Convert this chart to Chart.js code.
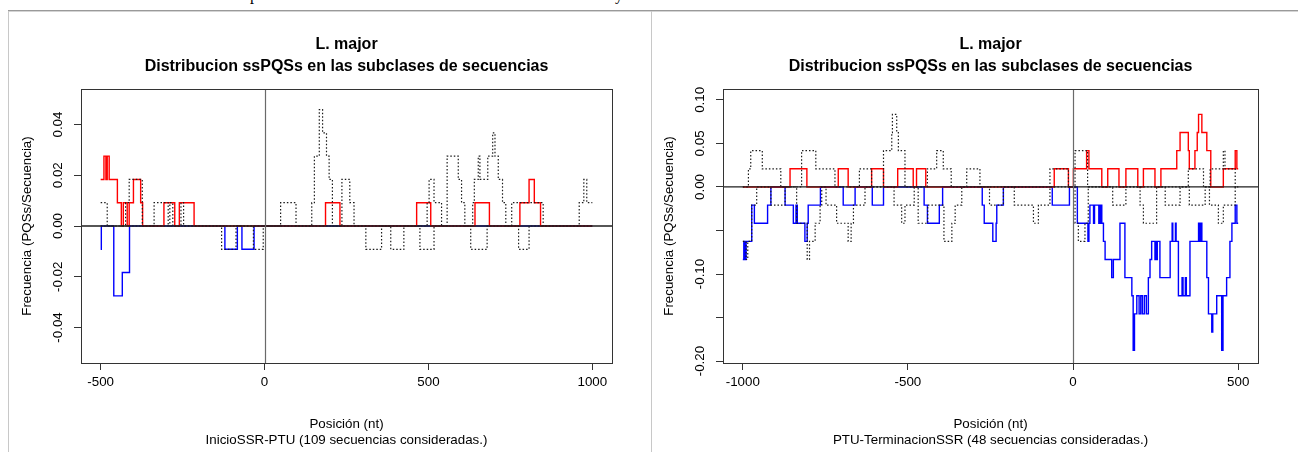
<!DOCTYPE html>
<html>
<head>
<meta charset="utf-8">
<script src="https://cdn.jsdelivr.net/npm/chart.js@4.4.1/dist/chart.umd.min.js"></script>
<style>
  html, body { margin: 0; padding: 0; background: #fff; }
  #page { position: relative; width: 1298px; height: 452px; overflow: hidden; background: #fff; }
  .frag { position: absolute; top: -13px; font: 16px "Liberation Serif", serif; line-height: 16px; color: #000; }
  #topRule { position: absolute; left: 8px; top: 10px; width: 1290px; height: 0; border-top: 1px solid #9a9a9a; border-bottom: 1px solid #d4d4d4; }
  #leftRule { position: absolute; left: 8px; top: 11px; width: 0; height: 441px; border-left: 1px solid #c8c8c8; }
  #midRule { position: absolute; left: 651px; top: 11px; width: 0; height: 441px; border-left: 1px solid #c8c8c8; }
  .panel { position: absolute; top: 0; height: 452px; }
  canvas { display: block; }
</style>
</head>
<body>
<div id="page">
  <span class="frag" style="left:250px">p</span>
  <span class="frag" style="left:615px">y</span>
  <div id="topRule"></div>
  <div id="leftRule"></div>
  <div id="midRule"></div>
  <div class="panel" style="left:0;width:651px"><canvas id="cInicio" width="651" height="452"></canvas></div>
  <div class="panel" style="left:652px;width:646px"><canvas id="cFin" width="646" height="452"></canvas></div>
</div>
<script>
// Número de secuencias consideradas en cada región
const nSecInicio = 109;
const nSecFin = 48;

// Marcas de los ejes
const xTicksInicio = [-500, 0, 500, 1000];
const yTicksInicio = [-0.04, -0.02, 0, 0.02, 0.04];
const yLabelsInicio = ['-0.04', '-0.02', '0.00', '0.02', '0.04'];
const xTicksFin = [-1000, -500, 0, 500];
const yTicksFin = [-0.2, -0.15, -0.1, -0.05, 0, 0.05, 0.1];
const yLabelsFin = ['-0.20', '', '-0.10', '', '0.00', '0.05', '0.10'];

// Escalones [posición (nt), número de PQSs] — InicioSSR-PTU
const inicioRojo = [[-500,2],[-490,3],[-484,2],[-480,3],[-474,2],[-449,1],[-437,0],[-431,1],[-419,0],[-413,1],[-400,2],[-378,1],[-372,0],[-307,1],[-274,0],[-260,1],[-215,0],[186,1],[230,0],[464,1],[507,0],[642,1],[686,0],[779,1],[807,2],[823,1],[842,0],[1000,0]];
const inicioAzul = [[-500,-1],[-498,0],[-460,-3],[-434,-2],[-412,0],[-121,-1],[-83,0],[-69,-1],[-32,0],[1000,0]];
const inicioNegroPos = [[-500,1],[-480,0],[-424,1],[-413,2],[-373,0],[-337,1],[-294,0],[-289,1],[-280,0],[-255,1],[-247,0],[49,1],[96,0],[144,1],[152,3],[167,5],[177,4],[189,3],[197,2],[207,0],[236,2],[260,1],[273,0],[496,1],[502,2],[517,1],[540,0],[557,3],[591,2],[601,1],[611,0],[635,1],[640,2],[652,3],[657,2],[681,3],[696,4],[703,3],[713,2],[726,1],[736,0],[754,1],[850,0],[960,1],[974,2],[983,1],[1000,1]];
const inicioNegroNeg = [[-500,0],[-131,-1],[-87,0],[-34,-1],[-4,0],[309,-1],[357,0],[385,-1],[425,0],[474,-1],[517,0],[629,-1],[679,0],[775,-1],[807,0],[1000,0]];

// Escalones [posición (nt), número de PQSs] — PTU-TerminacionSSR
const finRojo = [[-1000,0],[-857,1],[-806,0],[-711,1],[-681,0],[-610,1],[-574,0],[-531,1],[-484,0],[-474,1],[-446,0],[-57,1],[-14,0],[1,1],[41,2],[48,1],[87,0],[105,1],[139,0],[160,1],[196,0],[213,1],[248,0],[266,1],[314,2],[324,3],[349,2],[352,1],[369,2],[376,3],[380,4],[390,3],[405,2],[417,0],[455,1],[491,2],[496,1],[500,1]];
const finAzul = [[-1000,-4],[-997,-3],[-994,-4],[-990,-3],[-973,-1],[-965,-2],[-925,-1],[-915,0],[-872,-1],[-847,-2],[-839,-1],[-835,-2],[-812,-3],[-805,-2],[-802,-1],[-765,0],[-696,-1],[-660,0],[-608,-1],[-574,0],[-451,-1],[-441,-2],[-405,-1],[-395,0],[-275,-1],[-269,-2],[-243,-3],[-233,-2],[-231,-1],[-211,0],[-63,-1],[-11,0],[13,-2],[45,-3],[48,-2],[51,-1],[62,-2],[65,-1],[78,-2],[80,-1],[84,-2],[86,-1],[87,-2],[92,-3],[97,-4],[117,-5],[122,-4],[142,-2],[157,-5],[178,-6],[182,-9],[186,-7],[193,-6],[200,-7],[205,-6],[210,-7],[216,-6],[222,-7],[228,-5],[233,-4],[238,-3],[248,-4],[250,-3],[253,-4],[255,-3],[263,-5],[294,-3],[300,-2],[302,-3],[310,-2],[312,-3],[319,-6],[330,-5],[333,-6],[340,-5],[343,-6],[354,-3],[380,-2],[384,-3],[386,-2],[390,-3],[405,-5],[410,-7],[420,-8],[423,-7],[435,-6],[450,-9],[454,-6],[465,-5],[475,-3],[481,-2],[491,-1],[496,-2],[500,-2]];
const finNegroPos = [[-1000,0],[-983,1],[-976,2],[-941,1],[-885,0],[-822,2],[-779,1],[-721,0],[-647,1],[-610,0],[-574,2],[-549,3],[-547,4],[-534,3],[-529,2],[-509,0],[-441,1],[-413,2],[-393,1],[-369,0],[-322,1],[-282,0],[-70,1],[-14,0],[6,2],[44,0],[349,1],[395,0],[415,1],[455,2],[460,1],[491,0],[500,0]];
const finNegroNeg = [[-1000,-3],[-990,-4],[-985,-3],[-973,-1],[-958,0],[-915,-1],[-872,0],[-837,-2],[-805,-4],[-798,-3],[-781,-2],[-766,-1],[-761,0],[-748,-1],[-716,-2],[-681,-3],[-672,-2],[-665,-1],[-630,0],[-542,-1],[-519,-2],[-509,-1],[-481,0],[-469,-2],[-440,-1],[-391,-3],[-367,-2],[-357,-1],[-337,0],[-253,-1],[-211,0],[-178,-1],[-120,-2],[-105,-1],[-70,0],[6,-2],[16,-3],[36,-2],[46,0],[120,-1],[160,0],[203,-1],[213,-2],[253,0],[279,-1],[324,0],[352,-1],[400,0],[413,-1],[440,-2],[455,-1],[491,0],[500,0]];

const FUENTE = '"Liberation Sans", Arial, sans-serif';
Chart.defaults.font.family = FUENTE;
Chart.defaults.color = '#000';

// Frecuencia = PQSs / secuencias
function escalones(puntos, nSec) {
  return puntos.map(([x, c]) => ({ x: x, y: c / nSec }));
}

function serie(label, puntos, nSec, color, punteada) {
  return {
    label: label,
    data: escalones(puntos, nSec),
    borderColor: color,
    borderWidth: punteada ? 1.2 : 1.4,
    borderDash: punteada ? [1.5, 2] : [],
    stepped: 'before',
    pointRadius: 0,
    fill: false,
    tension: 0
  };
}

// Caja del gráfico, líneas de referencia en cero y etiquetas giradas del eje y
const marcoR = {
  id: 'marcoR',
  afterDatasetsDraw(chart) {
    const { ctx, chartArea: a, scales } = chart;
    ctx.save();
    const y0 = scales.y.getPixelForValue(0);
    ctx.strokeStyle = '#1e1e1e';
    ctx.lineWidth = 1.3;
    ctx.beginPath(); ctx.moveTo(a.left, y0); ctx.lineTo(a.right, y0); ctx.stroke();
    const x0 = Math.round(scales.x.getPixelForValue(0)) + 0.5;
    ctx.strokeStyle = '#6a6a6a';
    ctx.lineWidth = 1.2;
    ctx.beginPath(); ctx.moveTo(x0, a.top); ctx.lineTo(x0, a.bottom); ctx.stroke();
    ctx.strokeStyle = '#333';
    ctx.lineWidth = 1;
    ctx.strokeRect(Math.round(a.left) + 0.5, Math.round(a.top) + 0.5,
                   Math.round(a.right - a.left), Math.round(a.bottom - a.top));
    ctx.restore();
  },
  afterDraw(chart, args, opts) {
    const { ctx, chartArea: a, scales } = chart;
    ctx.save();
    ctx.fillStyle = '#000';
    ctx.font = '13.35px ' + FUENTE;
    ctx.textAlign = 'center';
    ctx.textBaseline = 'middle';
    opts.valores.forEach((v, i) => {
      const t = opts.etiquetas[i];
      if (!t) return;
      ctx.save();
      ctx.translate(a.left - 23, scales.y.getPixelForValue(v));
      ctx.rotate(-Math.PI / 2);
      ctx.fillText(t, 0, 0);
      ctx.restore();
    });
    ctx.restore();
  }
};

function configurar(p) {
  return {
    type: 'line',
    data: { datasets: p.series },
    plugins: [marcoR],
    options: {
      responsive: false,
      animation: false,
      devicePixelRatio: 1,
      events: [],
      layout: { padding: { left: 0, right: p.derecha, top: 0, bottom: 0 } },
      plugins: {
        legend: { display: false },
        tooltip: { enabled: false },
        title: {
          display: true,
          fullSize: false,
          text: ['L. major', 'Distribucion ssPQSs en las subclases de secuencias'],
          color: '#000',
          font: { size: 16, weight: 'bold', lineHeight: '22px' },
          padding: { top: 34, bottom: 11 }
        },
        marcoR: { valores: p.yTicks, etiquetas: p.yLabels }
      },
      scales: {
        x: {
          type: 'linear',
          position: 'bottom',
          min: p.xMin, max: p.xMax,
          afterBuildTicks: s => { s.ticks = p.xTicks.map(v => ({ value: v })); },
          afterFit: s => { s.height = 89; },
          ticks: { autoSkip: false, maxRotation: 0, padding: 4, color: '#000',
                   font: { size: 13.35 }, callback: v => String(v) },
          grid: { drawOnChartArea: false, drawTicks: true, tickLength: 7, color: '#333', lineWidth: 1 },
          border: { display: false },
          title: { display: true, text: ['Posición (nt)', p.sub], color: '#000',
                   font: { size: 13.35, lineHeight: '16px' }, padding: { top: 0, bottom: 4 } }
        },
        y: {
          type: 'linear',
          position: 'left',
          min: p.yMin, max: p.yMax,
          afterBuildTicks: s => { s.ticks = p.yTicks.map(v => ({ value: v })); },
          afterFit: s => { s.width = p.izquierda; },
          ticks: { display: false },
          grid: { drawOnChartArea: false, drawTicks: true, tickLength: 7, color: '#333', lineWidth: 1 },
          border: { display: false },
          title: { display: true, text: 'Frecuencia (PQSs/Secuencia)', color: '#000',
                   font: { size: 13.35, lineHeight: '16px' }, padding: { top: p.yTitulo, bottom: 0 } }
        }
      }
    }
  };
}

new Chart(document.getElementById('cInicio'), configurar({
  series: [
    serie('NegroPos', inicioNegroPos, nSecInicio, '#1a1a1a', true),
    serie('NegroNeg', inicioNegroNeg, nSecInicio, '#1a1a1a', true),
    serie('Rojo', inicioRojo, nSecInicio, '#ff0000', false),
    serie('Azul', inicioAzul, nSecInicio, '#0000ff', false)
  ],
  xMin: -560, xMax: 1060, yMin: -0.054, yMax: 0.054,
  xTicks: xTicksInicio, yTicks: yTicksInicio, yLabels: yLabelsInicio,
  sub: 'InicioSSR-PTU (109 secuencias consideradas.)',
  izquierda: 81, derecha: 39, yTitulo: 19
}));

new Chart(document.getElementById('cFin'), configurar({
  series: [
    serie('NegroPos', finNegroPos, nSecFin, '#1a1a1a', true),
    serie('NegroNeg', finNegroNeg, nSecFin, '#1a1a1a', true),
    serie('Rojo', finRojo, nSecFin, '#ff0000', false),
    serie('Azul', finAzul, nSecFin, '#0000ff', false)
  ],
  xMin: -1060, xMax: 560, yMin: -0.2022, yMax: 0.1125,
  xTicks: xTicksFin, yTicks: yTicksFin, yLabels: yLabelsFin,
  sub: 'PTU-TerminacionSSR (48 secuencias consideradas.)',
  izquierda: 71, derecha: 40, yTitulo: 9
}));
</script>
</body>
</html>
